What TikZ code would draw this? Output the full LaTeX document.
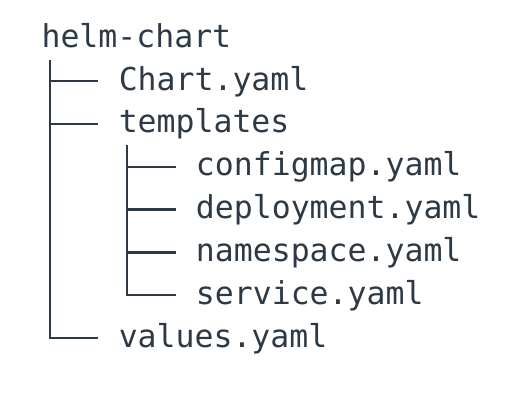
\documentclass[tikz,border=0pt]{standalone}
\usepackage{fontspec}
\setmonofont{DejaVu Sans Mono}
\usepackage{xcolor}
\usepackage{tikz}
\definecolor{ink}{HTML}{2D3A46}

\begin{document}
\begin{tikzpicture}[x=19.3pt, y=-42.85pt, line width=2.3pt, color=ink,
    entry/.style={anchor=west, inner sep=0pt, text height=24pt, text depth=6pt,
                  font=\ttfamily\fontsize{31.5}{38}\selectfont}]
  \useasboundingbox (-40.4pt,38.2pt) rectangle (483.6pt,-379.8pt);
  % one entry per line, columns of one character
  \node[entry] (root)   at (0,0) {helm-chart};
  \node[entry] (chart)  at (4,1) {Chart.yaml};
  \node[entry] (tmpl)   at (4,2) {templates};
  \node[entry] (cfg)    at (8,3) {configmap.yaml};
  \node[entry] (deploy) at (8,4) {deployment.yaml};
  \node[entry] (ns)     at (8,5) {namespace.yaml};
  \node[entry] (svc)    at (8,6) {service.yaml};
  \node[entry] (values) at (4,7) {values.yaml};
  % tree lines
  \coordinate (trunk) at ([xshift=9.65pt, yshift=-21.4pt]root.west);
  \coordinate (sub)   at ([xshift=9.65pt, yshift=-21.4pt]tmpl.west);
  \draw (trunk) |- ([xshift=-19.3pt]values.west);
  \foreach \n in {chart, tmpl}
    \draw (trunk |- \n.west) -- ([xshift=-19.3pt]\n.west);
  \draw (sub) |- ([xshift=-19.3pt]svc.west);
  \foreach \n in {cfg, deploy, ns}
    \draw (sub |- \n.west) -- ([xshift=-19.3pt]\n.west);
\end{tikzpicture}
\end{document}
